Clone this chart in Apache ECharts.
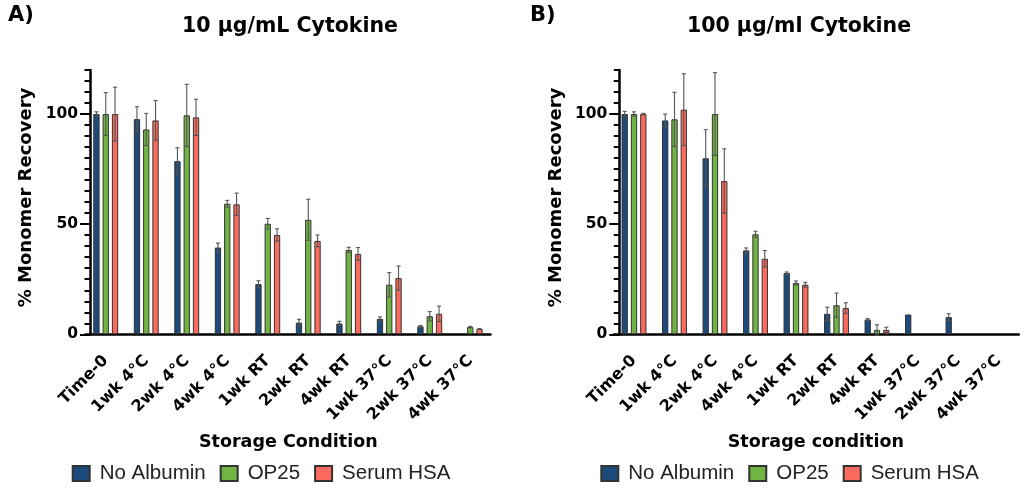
<!DOCTYPE html>
<html><head><meta charset="utf-8">
<script src="https://cdn.jsdelivr.net/npm/echarts@6/dist/echarts.min.js"></script>
<style>html,body{margin:0;padding:0;background:#fff}#c{width:1024px;height:489px}</style>
</head><body><div id="c"></div>
<script>
const categories = ['Time-0','1wk 4°C','2wk 4°C','4wk 4°C','1wk RT','2wk RT','4wk RT','1wk 37°C','2wk 37°C','4wk 37°C'];
const seriesNames = ['No Albumin','OP25','Serum HSA'];
const yTickLabels = [0, 50, 100];

// Panel A: 10 µg/mL
const noAlbA    = [100, 97.7, 78.6, 39.4, 22.8, 5.3, 4.9, 7.0, 3.6, null];
const noAlbAErr = [1.0, 5.6, 6.1, 2.0, 1.5, 1.5, 1.0, 0.9, 0.4, null];
const op25A     = [100, 93.0, 99.4, 59.3, 50.2, 52.0, 38.3, 22.5, 8.2, 3.3];
const op25AErr  = [9.7, 7.3, 14.1, 1.5, 2.4, 9.3, 1.2, 5.5, 2.1, 0.3];
const hsaA      = [100, 97.1, 98.5, 59.0, 45.1, 42.4, 36.5, 25.5, 9.3, 2.4];
const hsaAErr   = [12.2, 9.0, 8.2, 5.1, 2.8, 2.7, 2.9, 5.5, 3.5, 0.2];

// Panel B: 100 µg/ml
const noAlbB    = [100, 97.1, 79.9, 38.1, 27.8, 9.3, 6.7, 9.0, 7.8, null];
const noAlbBErr = [1.2, 2.9, 13.0, 1.1, 0.5, 3.0, 0.4, 0, 1.5, null];
const op25B     = [100, 97.6, 100, 45.4, 23.3, 13.2, 2.0, null, null, null];
const op25BErr  = [1.0, 12.3, 18.8, 1.4, 0.9, 5.5, 2.3, null, null, null];
const hsaB      = [100, 102, 69.6, 34.3, 22.5, 11.9, 2.0, null, null, null];
const hsaBErr   = [0.3, 16.3, 14.6, 3.7, 1.1, 2.4, 1.2, null, null, null];

const colors = ['#1c4a7a', '#70b544', '#fb6b5d'];
const BOLD = "'DejaVu Sans'";
const REG = "'Liberation Sans'";

const panels = [
  {vals:[noAlbA, op25A, hsaA], errs:[noAlbAErr, op25AErr, hsaAErr], left:85.5, yOff:-4.5},
  {vals:[noAlbB, op25B, hsaB], errs:[noAlbBErr, op25BErr, hsaBErr], left:613.75, yOff:-5.5}
];

const BW = 6.3, GAP = 3.0;

function makeErr(offset){
  return function(params, api){
    const c = api.value(0), v = api.value(1), e = api.value(2);
    const top = api.coord([c, v + e]);
    const bot = api.coord([c, v - e]);
    const x = top[0] + offset;
    const cap = 2;
    const style = {stroke:'#555', lineWidth:1.1};
    return {type:'group', children:[
      {type:'line', shape:{x1:x, y1:top[1], x2:x, y2:bot[1]}, style:style},
      {type:'line', shape:{x1:x-cap, y1:top[1], x2:x+cap, y2:top[1]}, style:style},
      {type:'line', shape:{x1:x-cap, y1:bot[1], x2:x+cap, y2:bot[1]}, style:style}
    ]};
  };
}

const grid = [], xAxis = [], yAxis = [], series = [];
panels.forEach(function(p, g){
  grid.push({left:p.left, top:70, width:405, height:264.3});
  xAxis.push({
    gridIndex:g, type:'category', data:categories,
    axisLine:{onZero:false, lineStyle:{color:'#000', width:2.5}},
    axisTick:{alignWithLabel:true, length:8.5, lineStyle:{color:'#000', width:2.5}},
    axisLabel:{interval:0, rotate:45, margin:24, fontFamily:BOLD, fontWeight:'bold', fontSize:16, color:'#000'}
  });
  yAxis.push({
    gridIndex:g, type:'value', position:'left', offset:p.yOff, min:0, max:120, interval:5,
    axisLine:{show:true, lineStyle:{color:'#000', width:2.5}},
    axisTick:{show:true, length:5.5, lineStyle:{color:'#000', width:2}},
    axisLabel:{show:false}, splitLine:{show:false}
  });
  yAxis.push({
    gridIndex:g, type:'value', position:'left', offset:p.yOff, min:0, max:120, interval:50,
    axisLine:{show:false},
    axisTick:{show:true, length:10, customValues:yTickLabels, lineStyle:{color:'#000', width:2}},
    axisLabel:{customValues:yTickLabels, margin:12, fontFamily:BOLD, fontWeight:'bold', fontSize:15.5, color:'#000'},
    splitLine:{show:false}
  });
  for (let k = 0; k < 3; k++) {
    series.push({
      type:'bar', name:seriesNames[k], xAxisIndex:g, yAxisIndex:g*2,
      data:p.vals[k], barWidth:BW, barGap:(GAP/BW*100)+'%',
      itemStyle:{color:colors[k], borderColor:'#333', borderWidth:1},
      z:2
    });
    const ed = [];
    p.vals[k].forEach(function(v, i){
      const e = p.errs[k][i];
      if (v != null && e != null && e > 0) ed.push([i, v, e]);
    });
    series.push({
      type:'custom', name:seriesNames[k] + ' err', xAxisIndex:g, yAxisIndex:g*2,
      data:ed, encode:{x:0, y:1}, renderItem:makeErr((k-1)*(BW+GAP)), z:5, silent:true
    });
  }
});

function legendAt(left){
  return {
    data:seriesNames, left:left, top:463, padding:0, orient:'horizontal',
    icon:'rect', itemWidth:17, itemHeight:15, itemGap:14, selectedMode:false,
    textStyle:{fontFamily:REG, fontSize:20.5, color:'#222', padding:[0,0,0,5]}
  };
}

function txt(x, y, text, size, extra){
  return Object.assign({
    type:'text', x:x, y:y,
    style:{text:text, fontFamily:BOLD, fontWeight:'bold', fontSize:size, fill:'#000', align:'center', verticalAlign:'middle'}
  }, extra || {});
}

const graphic = [
  {type:'text', x:8, y:16, style:{text:'A)', fontFamily:BOLD, fontWeight:'bold', fontSize:21, fill:'#000', align:'left', verticalAlign:'middle'}},
  {type:'text', x:530, y:16, style:{text:'B)', fontFamily:BOLD, fontWeight:'bold', fontSize:21, fill:'#000', align:'left', verticalAlign:'middle'}},
  txt(290, 27, '10 µg/mL Cytokine', 20.5),
  txt(799, 27, '100 µg/ml Cytokine', 20.5),
  txt(26.5, 197.5, '% Monomer Recovery', 18, {rotation:Math.PI/2}),
  txt(556, 197.5, '% Monomer Recovery', 18, {rotation:Math.PI/2}),
  txt(288.3, 442, 'Storage Condition', 17.5),
  txt(815.8, 442, 'Storage condition', 17.5)
];

const chart = echarts.init(document.getElementById('c'), null, {renderer:'canvas'});
chart.setOption({
  animation:false,
  backgroundColor:'#fff',
  grid:grid, xAxis:xAxis, yAxis:yAxis, series:series,
  legend:[legendAt(71.7), legendAt(600.3)],
  graphic:graphic
});
</script>
</body></html>
